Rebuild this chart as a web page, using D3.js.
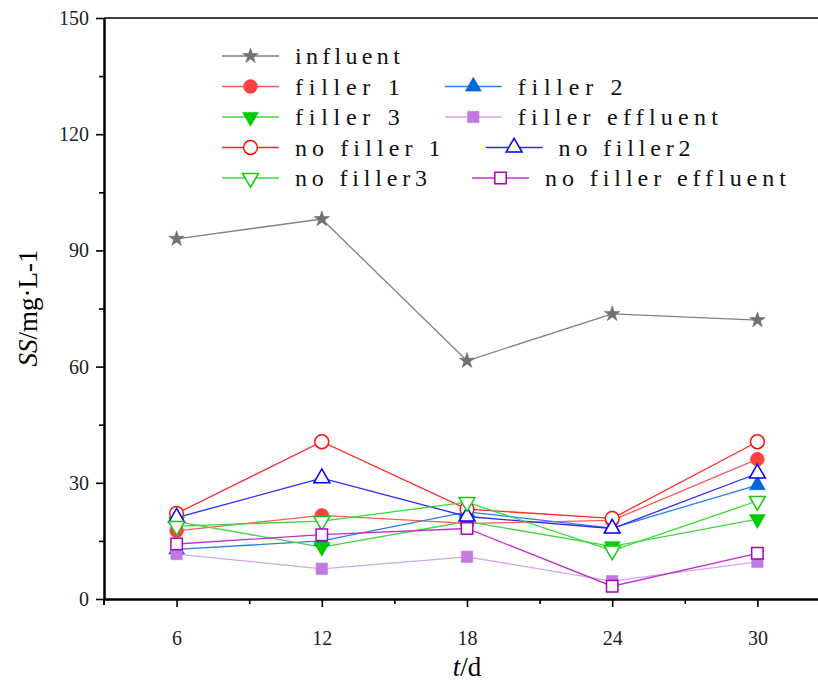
<!DOCTYPE html>
<html>
<head>
<meta charset="utf-8">
<script src="https://cdn.jsdelivr.net/npm/d3@7"></script>
<style>
  body { margin: 0; background: #fff; }
  svg { display: block; }
</style>
</head>
<body>
<div id="chart"></div>
<script>
// data
var days = [6, 12, 18, 24, 30];
var influent = [93.0, 98.1, 61.5, 73.6, 72.0];
var filler1 = [17.6, 21.6, 19.5, 20.3, 36.1];
var filler2 = [12.8, 15.0, 22.5, 18.3, 29.4];
var filler3 = [20.0, 13.4, 20.0, 13.6, 20.6];
var fillerEffluent = [11.6, 7.8, 10.9, 4.6, 9.6];
var noFiller1 = [22.1, 40.6, 23.2, 20.8, 40.6];
var noFiller2 = [21.0, 31.2, 21.3, 18.2, 32.4];
var noFiller3 = [18.8, 20.1, 25.0, 12.5, 25.3];
var noFillerEffluent = [14.2, 16.6, 18.2, 3.3, 11.8];

var yTicks = [0, 30, 60, 90, 120, 150];
var xTicks = [6, 12, 18, 24, 30];

var series = [
  { name: "influent", values: influent, line: "#808080", mark: "#707070", sym: d3.symbolStar, size: 75, open: false, rot: 0 },
  { name: "filler 1", values: filler1, line: "#ff5a5a", mark: "#ff4040", sym: d3.symbolCircle, size: 150, open: false, rot: 0 },
  { name: "filler 2", values: filler2, line: "#2a7fe6", mark: "#0066dd", sym: d3.symbolTriangle, size: 110, open: false, rot: 0 },
  { name: "filler 3", values: filler3, line: "#44d644", mark: "#00cc00", sym: d3.symbolTriangle, size: 110, open: false, rot: 180 },
  { name: "filler effluent", values: fillerEffluent, line: "#d4a4ec", mark: "#c37ae0", sym: d3.symbolSquare, size: 130, open: false, rot: 0 },
  { name: "no filler 1", values: noFiller1, line: "#ff2a2a", mark: "#ff1010", sym: d3.symbolCircle, size: 150, open: true, rot: 0 },
  { name: "no filler2", values: noFiller2, line: "#2a2aff", mark: "#0000ff", sym: d3.symbolTriangle, size: 110, open: true, rot: 0 },
  { name: "no filler3", values: noFiller3, line: "#33dd33", mark: "#11cc11", sym: d3.symbolTriangle, size: 110, open: true, rot: 180 },
  { name: "no filler effluent", values: noFillerEffluent, line: "#c030d0", mark: "#b000c0", sym: d3.symbolSquare, size: 130, open: true, rot: 0 }
];

var width = 818, height = 684;
var margin = { top: 18, left: 104, bottom: 85 };

var svg = d3.select("#chart")
  .append("svg")
  .attr("width", width)
  .attr("height", height);

var x = d3.scaleLinear().domain([3, 33]).range([margin.left, margin.left + 30 * 24.2]);
var y = d3.scaleLinear().domain([0, 150]).range([height - margin.bottom, margin.top]);

// lines
var line = d3.line()
  .x(function(d, i) { return x(days[i]); })
  .y(function(d) { return y(d); });

series.forEach(function(s) {
  svg.append("path")
    .datum(s.values)
    .attr("d", line)
    .attr("fill", "none")
    .attr("stroke", s.line)
    .attr("stroke-width", 1.3);
});

function drawMark(g, s, cx, cy) {
  g.append("path")
    .attr("d", d3.symbol().type(s.sym).size(s.size))
    .attr("transform", "translate(" + cx + "," + cy + ") rotate(" + s.rot + ")")
    .attr("fill", s.open ? "#fff" : s.mark)
    .attr("stroke", s.mark)
    .attr("stroke-width", s.open ? 1.5 : 0.6);
}

series.forEach(function(s) {
  s.values.forEach(function(v, i) {
    drawMark(svg, s, x(days[i]), y(v));
  });
});

// axes
svg.append("g")
  .attr("transform", "translate(0," + y(0) + ")")
  .call(d3.axisBottom(x).tickValues(xTicks).tickSize(8).tickSizeOuter(0).tickPadding(24).tickFormat(d3.format("d")));
svg.append("g")
  .attr("transform", "translate(0," + y(0) + ")")
  .call(d3.axisBottom(x).tickValues([9, 15, 21, 27]).tickSize(5).tickSizeOuter(0).tickFormat(""));

svg.append("g")
  .attr("transform", "translate(" + x(3) + ",0)")
  .call(d3.axisLeft(y).tickValues(yTicks).tickSize(8).tickSizeOuter(0).tickPadding(7));
svg.append("g")
  .attr("transform", "translate(" + x(3) + ",0)")
  .call(d3.axisLeft(y).tickValues([15, 45, 75, 105, 135]).tickSize(5).tickSizeOuter(0).tickFormat(""));

svg.selectAll(".domain").attr("stroke", "#000").attr("stroke-width", 2);
svg.selectAll(".tick line").attr("stroke", "#000").attr("stroke-width", 1.6);
svg.selectAll(".tick text")
  .style("font-family", "Liberation Serif")
  .style("font-size", "20px")
  .attr("fill", "#222");

// small stub below the origin and top frame
svg.append("line")
  .attr("x1", x(3)).attr("x2", x(3))
  .attr("y1", y(0)).attr("y2", y(0) + 6)
  .attr("stroke", "#000").attr("stroke-width", 2);
svg.append("line")
  .attr("x1", x(3)).attr("x2", x(33))
  .attr("y1", y(150)).attr("y2", y(150))
  .attr("stroke", "#000").attr("stroke-width", 1.6);

// axis titles
var yTitle = svg.append("text")
  .attr("transform", "translate(37," + 308 + ") rotate(-90)")
  .attr("text-anchor", "middle")
  .style("font-family", "Liberation Serif")
  .style("font-size", "27px");
yTitle.append("tspan").style("font-style", "italic").text("SS");
yTitle.append("tspan").text("/mg·L-1");

var xTitle = svg.append("text")
  .attr("x", 467)
  .attr("y", 676)
  .attr("text-anchor", "middle")
  .style("font-family", "Liberation Serif")
  .style("font-size", "27px");
xTitle.append("tspan").style("font-style", "italic").text("t");
xTitle.append("tspan").text("/d");

// legend
var legendRows = [
  ["influent"],
  ["filler 1", "filler 2"],
  ["filler 3", "filler effluent"],
  ["no filler 1", "no filler2"],
  ["no filler3", "no filler effluent"]
];
var charW = 13.6;
var legend = svg.append("g");
legendRows.forEach(function(row, r) {
  var ly = 56 + r * 30.5;
  var lx = 222;
  row.forEach(function(name) {
    var s = series.find(function(d) { return d.name === name; });
    legend.append("line")
      .attr("x1", lx).attr("x2", lx + 57)
      .attr("y1", ly).attr("y2", ly)
      .attr("stroke", s.line).attr("stroke-width", 1.4);
    drawMark(legend, s, lx + 28.5, ly);
    var w = name.length * charW - 4;
    legend.append("text")
      .attr("x", lx + 73)
      .attr("y", ly + 8)
      .attr("textLength", w)
      .attr("lengthAdjust", "spacing")
      .style("font-family", "Liberation Serif")
      .style("font-size", "24px")
      .attr("fill", "#111")
      .text(name);
    lx = lx + 73 + w + 45;
  });
});
</script>
</body>
</html>
